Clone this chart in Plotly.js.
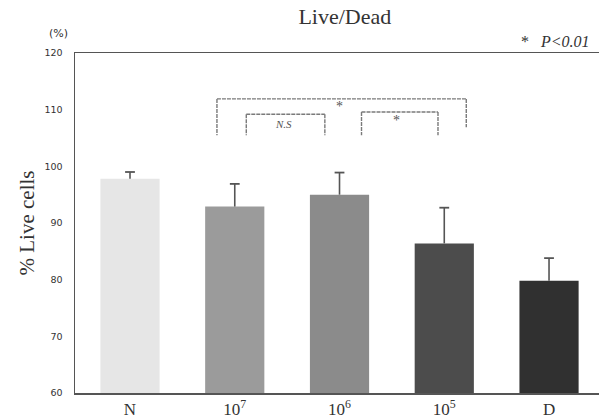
<!DOCTYPE html>
<html>
<head>
<meta charset="utf-8">
<script src="https://cdn.plot.ly/plotly-3.0.1.min.js"></script>
<style>html,body{margin:0;padding:0;background:#fff;}#chart{width:599px;height:418px;}</style>
</head>
<body>
<div id="chart"></div>
<script>
// Data
var categories = ["N", "10<sup>7</sup>", "10<sup>6</sup>", "10<sup>5</sup>", "D"];
var liveCells = [97.8, 92.9, 95.0, 86.4, 79.8];
var errorUp = [1.2, 4.0, 3.9, 6.3, 4.0];
var barColors = ["#e6e6e6", "#9b9b9b", "#8b8b8b", "#4c4c4c", "#303030"];
var yTicks = [60, 70, 80, 90, 100, 110, 120];

// Significance brackets (category index positions and % values)
var bracketX0 = [0.83, 1.11, 2.21];
var bracketX1 = [3.21, 1.86, 2.94];
var bracketTop = [111.9, 109.2, 109.6];
var bracketLeftEnd = [105.5, 105.5, 105.5];
var bracketRightEnd = [106.9, 105.5, 105.5];
var bracketLabel = ["*", "<i>N.S</i>", "*"];
var labelX = [2.0, 1.47, 2.54];
var labelY = [110.6, 107.5, 108.1];

var xIdx = categories.map(function (c, i) { return i; });
var whiskerTop = liveCells.map(function (v, i) { return v + errorUp[i]; });

var bars = {
  type: "bar",
  x: xIdx,
  y: liveCells,
  width: 0.565,
  marker: { color: barColors, line: { width: 0 } },
  hoverinfo: "x+y"
};

// Upward-only whisker stems (no caps)
var stems = {
  type: "scatter",
  mode: "markers",
  x: xIdx,
  y: whiskerTop,
  marker: { size: 1, opacity: 0 },
  error_y: {
    type: "data",
    symmetric: false,
    array: errorUp.map(function () { return 0; }),
    arrayminus: errorUp,
    color: "#555555",
    thickness: 1.6,
    width: 0
  },
  hoverinfo: "skip"
};

// Caps at the top of each whisker only
var caps = {
  type: "scatter",
  mode: "markers",
  x: xIdx,
  y: whiskerTop,
  marker: { symbol: "line-ew-open", size: 7, color: "#555555", line: { color: "#555555", width: 1.8 } },
  hoverinfo: "skip"
};

var shapes = [];
var annotations = [];
var bracketLine = { color: "#7a7a7a", width: 1.4, dash: "4px,1px" };
for (var i = 0; i < bracketX0.length; i++) {
  shapes.push({ type: "line", xref: "x", yref: "y", x0: bracketX0[i], x1: bracketX1[i], y0: bracketTop[i], y1: bracketTop[i], line: bracketLine });
  shapes.push({ type: "line", xref: "x", yref: "y", x0: bracketX0[i], x1: bracketX0[i], y0: bracketTop[i], y1: bracketLeftEnd[i], line: bracketLine });
  shapes.push({ type: "line", xref: "x", yref: "y", x0: bracketX1[i], x1: bracketX1[i], y0: bracketTop[i], y1: bracketRightEnd[i], line: bracketLine });
  annotations.push({ xref: "x", yref: "y", x: labelX[i], y: labelY[i], text: bracketLabel[i], showarrow: false,
    font: { family: "Liberation Serif, serif", size: i === 1 ? 11 : 14, color: "#555555" } });
}

annotations.push({ xref: "paper", yref: "paper", x: -0.031, y: 1.056, text: "(%)", showarrow: false,
  xanchor: "center", yanchor: "middle", font: { family: "DejaVu Sans, sans-serif", size: 11, color: "#333" } });
annotations.push({ xref: "paper", yref: "paper", x: 0.987, y: 1.035, text: "*   <i>P&lt;0.01</i>", showarrow: false,
  xanchor: "right", yanchor: "middle", font: { family: "Liberation Serif, serif", size: 16, color: "#333" } });

var layout = {
  width: 599,
  height: 418,
  margin: { l: 75, r: 0, t: 53, b: 25, pad: 0 },
  paper_bgcolor: "#ffffff",
  plot_bgcolor: "#ffffff",
  showlegend: false,
  title: {
    text: "Live/Dead",
    xref: "paper", x: 0.515, xanchor: "center",
    yref: "container", y: 0.962, yanchor: "middle",
    font: { family: "Liberation Serif, serif", size: 22, color: "#333" }
  },
  xaxis: {
    range: [-0.525, 4.477],
    tickvals: xIdx,
    ticktext: categories,
    ticks: "",
    showgrid: false,
    zeroline: false,
    showline: true,
    linecolor: "#555",
    linewidth: 1.5,
    mirror: true,
    ticklabelstandoff: 0,
    tickfont: { family: "Liberation Serif, serif", size: 17, color: "#333" },
    fixedrange: true
  },
  yaxis: {
    range: [60, 120],
    tickvals: yTicks,
    ticks: "",
    showgrid: false,
    zeroline: false,
    showline: true,
    linecolor: "#555",
    linewidth: 1.5,
    ticklabelstandoff: 9,
    tickfont: { family: "DejaVu Sans, sans-serif", size: 9.5, color: "#333" },
    title: { text: "% Live cells", standoff: 4, font: { family: "Liberation Serif, serif", size: 21, color: "#333" } },
    fixedrange: true
  },
  shapes: shapes,
  annotations: annotations
};

Plotly.newPlot("chart", [bars, stems, caps], layout, { displayModeBar: false, staticPlot: true });
</script>
</body>
</html>
